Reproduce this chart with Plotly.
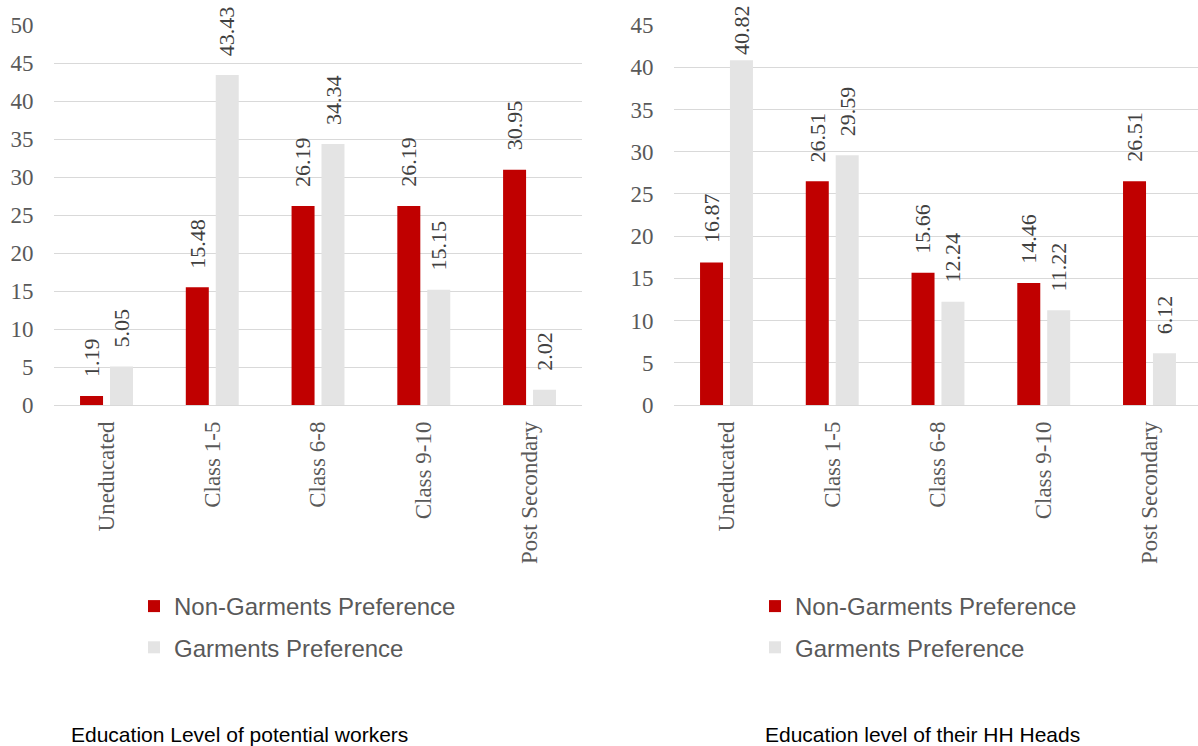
import plotly.graph_objects as go

# Education categories shared by both panels
categories = ["Uneducated", "Class 1-5", "Class 6-8", "Class 9-10", "Post Secondary"]

# Panel 1: education level of potential workers (%)
workers_non_garments = [1.19, 15.48, 26.19, 26.19, 30.95]
workers_garments = [5.05, 43.43, 34.34, 15.15, 2.02]

# Panel 2: education level of their household heads (%)
heads_non_garments = [16.87, 26.51, 15.66, 14.46, 26.51]
heads_garments = [40.82, 29.59, 12.24, 11.22, 6.12]

series_names = ["Non-Garments Preference", "Garments Preference"]
panel_titles = ["Education Level of potential workers", "Education level of their HH Heads"]

RED = "#C00000"
GREY = "#E4E4E4"
GRID = "#D9D9D9"
TICK_COLOR = "#595959"
LABEL_COLOR = "#404040"
SERIF = "Liberation Serif"
SANS = "Liberation Sans"

W, H = 1198, 746
BAR_W = 0.2175
OFFSETS = [-0.25, 0.033]
LABEL_SIZE = 22

# plot-area geometry (pixels)
PLOT_TOP, PLOT_BOTTOM = 25, 405
panels = [
    dict(xdom=(53.6 / W, 582.4 / W), xrange=[-0.5, 4.5], ymax=50,
         data=[workers_non_garments, workers_garments], legend="legend",
         xaxis="x", yaxis="y"),
    dict(xdom=(673.6 / W, 1.0), xrange=[-0.5, 4.459], ymax=45,
         data=[heads_non_garments, heads_garments], legend="legend2",
         xaxis="x2", yaxis="y2"),
]
ydom = ((H - PLOT_BOTTOM) / H, (H - PLOT_TOP) / H)

fig = go.Figure()
annotations = []

for p in panels:
    for s, (name, color) in enumerate(zip(series_names, [RED, GREY])):
        vals = p["data"][s]
        xs = list(range(len(categories)))
        fig.add_trace(go.Bar(
            x=xs, y=vals, name=name, width=BAR_W, offset=OFFSETS[s],
            marker=dict(color=color, line=dict(width=0)),
            xaxis=p["xaxis"], yaxis=p["yaxis"], legend=p["legend"],
            legendgroup=f"{p['legend']}-{s}", hoverinfo="x+y",
        ))
        # rotated value labels above each bar, pushed down if they'd run off the top
        for i, v in enumerate(vals):
            txt = f"{v:.2f}"
            bar_top_px = PLOT_TOP + (1 - v / p["ymax"]) * (PLOT_BOTTOM - PLOT_TOP)
            n_digits = sum(ch.isdigit() for ch in txt)
            text_len = LABEL_SIZE * (0.5 * n_digits + 0.25) + 3
            shift = min(17, bar_top_px - 4 - text_len)
            annotations.append(dict(
                x=i + OFFSETS[s] + BAR_W / 2, y=v, xref=p["xaxis"], yref=p["yaxis"],
                text=txt, showarrow=False, textangle=-90,
                xanchor="center", yanchor="bottom", yshift=shift,
                font=dict(family=SERIF, size=LABEL_SIZE, color=LABEL_COLOR),
            ))

# panel captions at the bottom
for title, x0 in zip(panel_titles, [69, 763]):
    annotations.append(dict(x=x0 / W, y=(H - 734) / H, xref="paper", yref="paper",
                            text=title, showarrow=False, xanchor="left", yanchor="middle",
                            font=dict(family=SANS, size=21, color="#000000")))

axis_common_x = dict(
    tickmode="array", tickvals=list(range(len(categories))), ticktext=categories,
    tickangle=-90, showgrid=False, zeroline=False, showline=False, ticks="",
    tickfont=dict(family=SERIF, size=23, color=TICK_COLOR), ticklabelstandoff=11,
    automargin=False, fixedrange=True,
)
axis_common_y = dict(
    dtick=5, showgrid=True, gridcolor=GRID, gridwidth=1.3,
    zeroline=True, zerolinecolor=GRID, zerolinewidth=1.3, showline=False, ticks="",
    tickfont=dict(family=SERIF, size=23, color=TICK_COLOR), ticklabelstandoff=19,
    automargin=False, fixedrange=True,
)

legend_common = dict(
    orientation="v", xanchor="left", yanchor="top", bgcolor="rgba(0,0,0,0)",
    font=dict(family=SANS, size=24, color=TICK_COLOR), tracegroupgap=7,
    itemclick=False, itemdoubleclick=False,
)

fig.update_layout(
    width=W, height=H, margin=dict(l=0, r=0, t=0, b=0, autoexpand=False),
    paper_bgcolor="white", plot_bgcolor="white",
    barmode="overlay", showlegend=True,
    xaxis=dict(domain=list(panels[0]["xdom"]), range=panels[0]["xrange"], anchor="y", **axis_common_x),
    yaxis=dict(domain=list(ydom), range=[0, panels[0]["ymax"]], anchor="x", **axis_common_y),
    xaxis2=dict(domain=list(panels[1]["xdom"]), range=panels[1]["xrange"], anchor="y2", **axis_common_x),
    yaxis2=dict(domain=list(ydom), range=[0, panels[1]["ymax"]], anchor="x2", **axis_common_y),
    legend=dict(x=134 / W, y=(H - 584) / H, **legend_common),
    legend2=dict(x=755 / W, y=(H - 584) / H, **legend_common),
    annotations=annotations,
)

fig.write_html("out.html")
